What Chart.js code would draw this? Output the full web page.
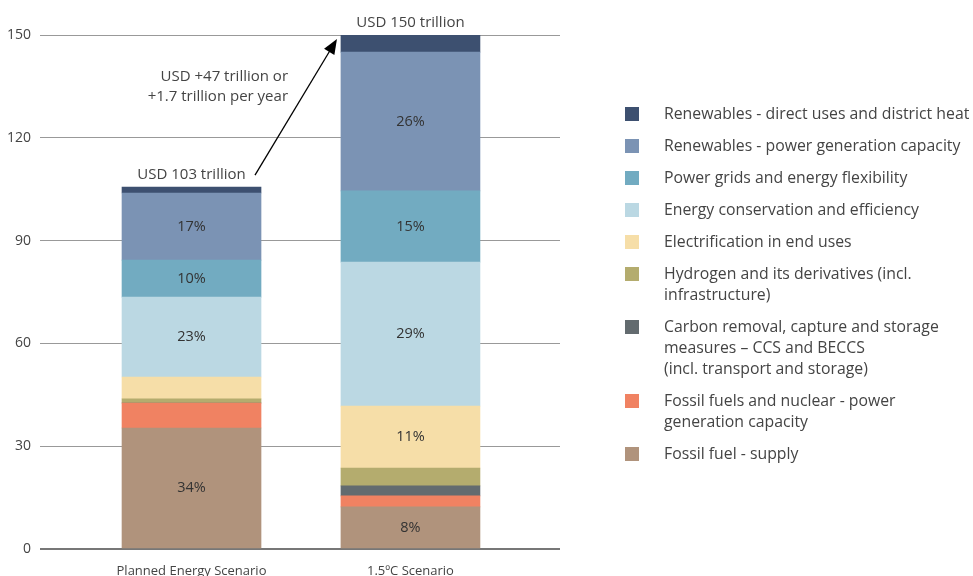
<!DOCTYPE html>
<html>
<head>
<meta charset="utf-8">
<script src="https://cdn.jsdelivr.net/npm/chart.js@4/dist/chart.umd.min.js"></script>
<style>
  html, body { margin: 0; padding: 0; background: #fff; }
  #wrap { position: relative; width: 973px; height: 576px; overflow: hidden; }
  #c { position: absolute; left: 0; top: 0; }
  #legend { position: absolute; left: 625px; top: 103px; font-family: "Open Sans", sans-serif; font-size: 15.8px; color: #444; }
  .item { position: relative; padding-left: 39px; line-height: 21px; margin-bottom: 11px; white-space: nowrap; }
  .sw { position: absolute; left: 0; top: 3.5px; width: 14px; height: 14px; }
</style>
</head>
<body>
<div id="wrap">
  <canvas id="c" width="973" height="576"></canvas>
  <div id="legend"></div>
</div>
<script>
// ---- data (values in USD trillion) ----
const categories = ["Planned Energy Scenario", "1.5ºC Scenario"];
const seriesNames = [
  "Fossil fuel - supply",
  "Fossil fuels and nuclear - power generation capacity",
  "Carbon removal, capture and storage measures – CCS and BECCS (incl. transport and storage)",
  "Hydrogen and its derivatives (incl. infrastructure)",
  "Electrification in end uses",
  "Energy conservation and efficiency",
  "Power grids and energy flexibility",
  "Renewables - power generation capacity",
  "Renewables - direct uses and district heat"
];
const fossilSupply      = [35.3, 12.3];
const fossilNuclear     = [7.3, 3.2];
const carbonRemoval     = [0, 2.9];
const hydrogen          = [1.2, 5.2];
const electrification   = [6.4, 18.1];
const conservation      = [23.3, 42.0];
const powerGrids        = [10.8, 20.8];
const renewablesPower   = [19.6, 40.5];
const renewablesDirect  = [1.7, 5.0];
const shareLabels = [
  ["34%", "8%"], [null, null], [null, null], [null, null], [null, "11%"],
  ["23%", "29%"], ["10%", "15%"], ["17%", "26%"], [null, null]
];
const totalLabels = ["USD 103 trillion", "USD 150 trillion"];
const deltaLabel = ["USD +47 trillion or", "+1.7 trillion per year"];
const yTicks = [0, 30, 60, 90, 120, 150];

// legend text lines (top to bottom)
const legendLines = [
  ["Renewables - direct uses and district heat"],
  ["Renewables - power generation capacity"],
  ["Power grids and energy flexibility"],
  ["Energy conservation and efficiency"],
  ["Electrification in end uses"],
  ["Hydrogen and its derivatives (incl.", "infrastructure)"],
  ["Carbon removal, capture and storage", "measures – CCS and BECCS", "(incl. transport and storage)"],
  ["Fossil fuels and nuclear - power", "generation capacity"],
  ["Fossil fuel - supply"]
];

const colors = ["#b0937c", "#f08262", "#636b6f", "#b4ac6e", "#f6dea8", "#bbd8e3", "#72abc1", "#7b93b4", "#3d5070"];
const seriesValues = [fossilSupply, fossilNuclear, carbonRemoval, hydrogen, electrification, conservation, powerGrids, renewablesPower, renewablesDirect];

const FONT = '"Open Sans", sans-serif';
const TEXT = '#444';

const datasets = seriesValues.map((vals, i) => ({
  label: seriesNames[i],
  data: vals.map((v, j) => ({ x: j, y: v })),
  backgroundColor: colors[i],
  borderWidth: 0,
  barThickness: 139
}));

const annotate = {
  id: 'annotate',
  afterDatasetsDraw(chart) {
    const ctx = chart.ctx;
    ctx.save();
    ctx.font = '14.5px ' + FONT;
    ctx.fillStyle = '#333';
    ctx.textAlign = 'center';
    ctx.textBaseline = 'middle';
    chart.data.datasets.forEach((ds, i) => {
      const meta = chart.getDatasetMeta(i);
      meta.data.forEach((el, j) => {
        const t = shareLabels[i][j];
        if (t) ctx.fillText(t, el.x, (el.y + el.base) / 2);
      });
    });
    const topMeta = chart.getDatasetMeta(chart.data.datasets.length - 1);
    ctx.font = '15px ' + FONT;
    ctx.fillStyle = TEXT;
    topMeta.data.forEach((el, j) => {
      ctx.fillText(totalLabels[j], el.x, el.y - 12);
    });
    const b1 = topMeta.data[0], b2 = topMeta.data[1];
    const y = chart.scales.y;
    ctx.textAlign = 'right';
    ctx.fillText(deltaLabel[0], b1.x + b1.width / 2 + 27, y.getPixelForValue(137.7));
    ctx.fillText(deltaLabel[1], b1.x + b1.width / 2 + 27, y.getPixelForValue(131.9));
    const x0 = b1.x + b1.width / 2 - 6, y0 = b1.y - 12;
    const x1 = b2.x - b2.width / 2 - 4, y1 = b2.y + 4;
    const ang = Math.atan2(y1 - y0, x1 - x0);
    const hl = 15, hw = 6;
    ctx.strokeStyle = '#000';
    ctx.lineWidth = 1.3;
    ctx.beginPath();
    ctx.moveTo(x0, y0);
    ctx.lineTo(x1 - Math.cos(ang) * hl * 0.8, y1 - Math.sin(ang) * hl * 0.8);
    ctx.stroke();
    ctx.fillStyle = '#000';
    ctx.beginPath();
    ctx.moveTo(x1, y1);
    ctx.lineTo(x1 - Math.cos(ang) * hl - Math.sin(ang) * hw, y1 - Math.sin(ang) * hl + Math.cos(ang) * hw);
    ctx.lineTo(x1 - Math.cos(ang) * hl + Math.sin(ang) * hw, y1 - Math.sin(ang) * hl - Math.cos(ang) * hw);
    ctx.closePath();
    ctx.fill();
    ctx.restore();
  }
};

new Chart(document.getElementById('c'), {
  type: 'bar',
  data: { datasets },
  plugins: [annotate],
  options: {
    responsive: false,
    animation: false,
    events: [],
    layout: { padding: { top: 35, right: 413, left: 0, bottom: 0 } },
    plugins: { legend: { display: false }, tooltip: { enabled: false } },
    scales: {
      x: {
        type: 'linear',
        stacked: true,
        offset: false,
        min: -0.692,
        max: 1.683,
        grid: { display: false, offset: false },
        border: { display: false },
        afterBuildTicks(s) { s.ticks = categories.map((c, i) => ({ value: i })); },
        afterFit(s) { s.height = 27; },
        ticks: {
          padding: 6,
          font: { family: FONT, size: 13 },
          color: TEXT,
          callback: (v) => categories[v]
        }
      },
      y: {
        stacked: true,
        min: 0,
        max: 150,
        afterBuildTicks(s) { s.ticks = yTicks.map(v => ({ value: v })); },
        afterFit(s) { s.width = 40; },
        grid: {
          drawTicks: false,
          color: (c) => c.tick && c.tick.value === 0 ? '#777' : '#999',
          lineWidth: (c) => c.tick && c.tick.value === 0 ? 2 : 1
        },
        border: { display: false },
        ticks: {
          padding: 9,
          font: { family: FONT, size: 14 },
          color: TEXT
        }
      }
    }
  }
});

const legendEl = document.getElementById('legend');
const legendColors = colors.slice().reverse();
legendLines.forEach((lines, i) => {
  const d = document.createElement('div');
  d.className = 'item';
  const sw = document.createElement('span');
  sw.className = 'sw';
  sw.style.background = legendColors[i];
  d.appendChild(sw);
  lines.forEach((l, k) => {
    if (k) d.appendChild(document.createElement('br'));
    d.appendChild(document.createTextNode(l));
  });
  legendEl.appendChild(d);
});
</script>
</body>
</html>
